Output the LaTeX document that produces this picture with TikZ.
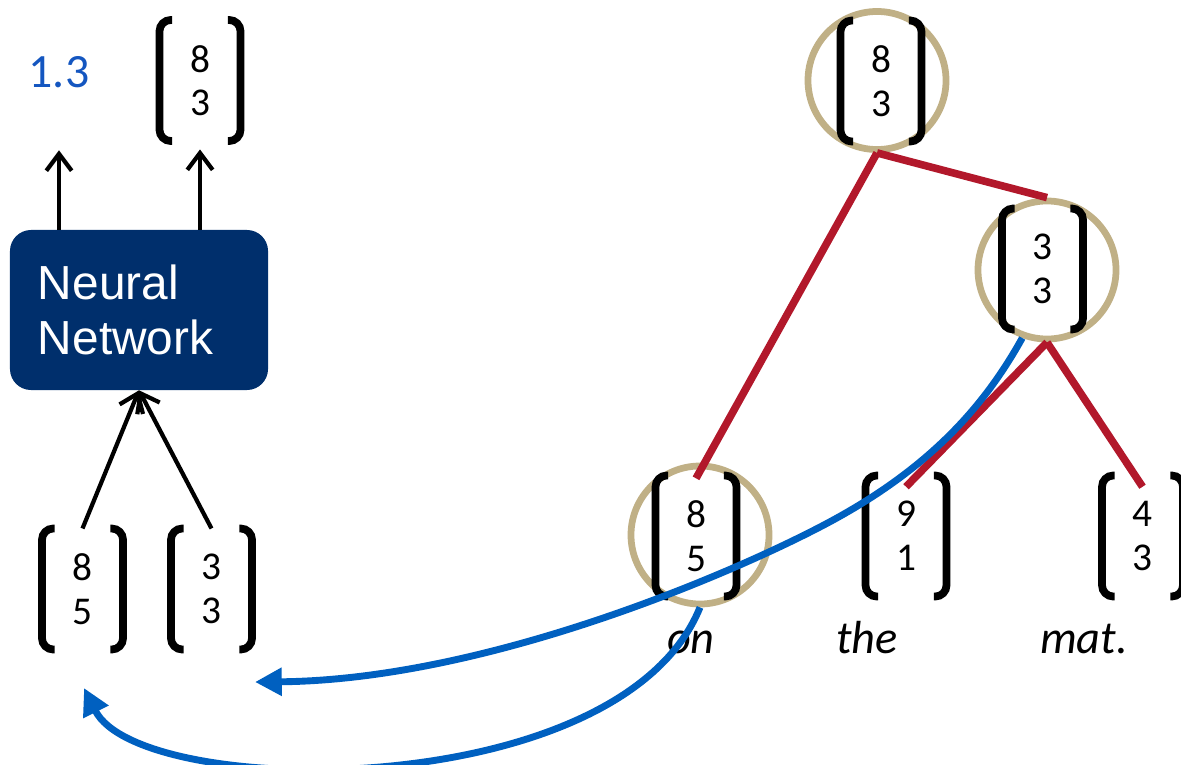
\documentclass[tikz,border=0pt]{standalone}
\usepackage{fontspec}
\setmainfont{Carlito}
\newfontfamily\nnfont{Liberation Sans}
\usetikzlibrary{arrows.meta}
\definecolor{nnblue}{RGB}{0,47,108}
\definecolor{flowblue}{RGB}{0,96,192}
\definecolor{scoreblue}{RGB}{20,86,192}
\definecolor{treered}{RGB}{178,24,43}
\definecolor{ringtan}{RGB}{192,176,134}

% column vector: a node for the numbers, brackets drawn round it
\newcommand{\mkvec}[4]{%
  \node[vecnum] (#1) at (#2) {#3\\#4};
  \draw[brk] ([xshift=9pt]#1.north west) -- (#1.north west) -- (#1.south west) -- ([xshift=9pt]#1.south west);
  \draw[brk] ([xshift=-9pt]#1.north east) -- (#1.north east) -- (#1.south east) -- ([xshift=-9pt]#1.south east);
}

\begin{document}
\begin{tikzpicture}[
  x=0.025cm, y=-0.025cm,
  vecnum/.style={minimum width=2.025cm, minimum height=3.025cm, inner sep=0pt, outer sep=0pt, align=center, font=\fontsize{28}{31}\selectfont},
  brk/.style={line width=5.5pt, rounded corners=8pt},
  ring/.style={circle, draw=ringtan, line width=4.8pt, minimum size=3.45cm, inner sep=0pt},
  nnbox/.style={fill=nnblue, rounded corners=15pt, text=white, align=left, text width=5.05cm, inner xsep=0.7cm, minimum height=4cm, font=\nnfont\fontsize{34}{39}\selectfont},
  score/.style={text=scoreblue, font=\fontsize{34}{38}\selectfont},
  word/.style={anchor=base, font=\fontsize{33}{38}\selectfont\itshape},
  arr/.style={-{Straight Barb[length=12pt,width=18pt]}, line width=3pt},
  tree/.style={draw=treered, line width=5.4pt},
  flow/.style={-{Triangle[length=19pt,width=19pt]}, draw=flowblue, line width=4.9pt}
]
\useasboundingbox (0,0) rectangle (1181,764);

% left: the network
\node[nnbox] (nn) at (139,310) {Neural\\Network};
\node[score] (score) at (59,72) {1.3};
\mkvec{out}{200,80.5}{8}{3}
\mkvec{inL}{82.5,589}{8}{5}
\mkvec{inR}{211.5,589}{3}{3}

\draw[arr, shorten >=41pt] (nn.north -| score) -- (score);
\draw[arr, shorten >=6pt] (nn.north -| out) -- (out.south);
\draw[arr] (inL.north) -- (nn.south);
\draw[arr] (inR.north) -- (nn.south);

% right: the tree
\node[ring] (rootc) at (877,80.5) {};
\node[ring] (midc) at (1047,270) {};
\node[ring] (onc) at (700,535) {};
\mkvec{root}{881,81}{8}{3}
\mkvec{mid}{1042.5,269}{3}{3}
\mkvec{on}{696,536}{8}{5}
\mkvec{the}{906,536}{9}{1}
\mkvec{mat}{1142.5,536}{4}{3}

\node[word] (won) at (691,653) {on};
\node[word] (wthe) at (867,653) {the};
\node[word] (wmat) at (1084,653) {mat.};

\draw[tree] (rootc.south) -- ([yshift=-2pt]on.north);
\draw[tree] (rootc.south) -- (midc.north);
\draw[tree] (midc.south) -- ([yshift=-8pt]the.north);
\draw[tree] (midc.south) -- ([yshift=-8pt]mat.north);

% back to the inputs
\coordinate (slotR) at (255,682);
\coordinate (slotL) at (84,688);
\draw[flow] (midc.250) .. controls (985,405) and (930,470) .. (820,527) .. controls (720,579) and (480,680) .. (slotR);
\draw[flow] (onc.south) .. controls (620,805) and (140,800) .. (slotL);
\end{tikzpicture}
\end{document}
